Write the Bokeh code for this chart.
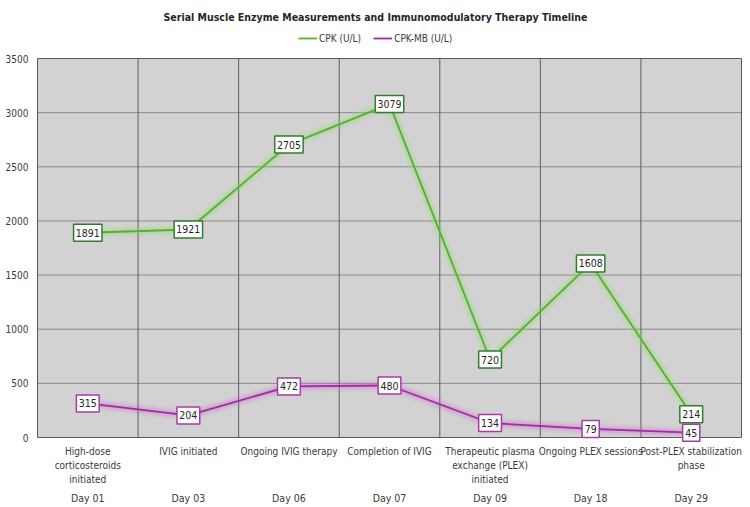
from bokeh.plotting import figure
from bokeh.models import ColumnDataSource, Range1d, Legend, LegendItem
from bokeh.core.properties import value
from bokeh.embed import file_html
from bokeh.resources import INLINE

# Timeline data
days = ["Day 01", "Day 03", "Day 06", "Day 07", "Day 09", "Day 18", "Day 29"]
phases = [
    "High-dose\ncorticosteroids\ninitiated",
    "IVIG initiated",
    "Ongoing IVIG therapy",
    "Completion of IVIG",
    "Therapeutic plasma\nexchange (PLEX)\ninitiated",
    "Ongoing PLEX sessions",
    "Post-PLEX stabilization\nphase",
]
cpk = [1891, 1921, 2705, 3079, 720, 1608, 214]
cpk_mb = [315, 204, 472, 480, 134, 79, 45]
y_ticks = [0, 500, 1000, 1500, 2000, 2500, 3000, 3500]
title = "Serial Muscle Enzyme Measurements and Immunomodulatory Therapy Timeline"

FONT_NAME = "DejaVu Sans Condensed, Lato"
FONT = value(FONT_NAME)
TXT = "#3a3a3a"
GREEN = "#52b230"
GREEN_DARK = "#2f7d2c"
MAGENTA = "#a626a6"
MAGENTA_BOX = "#a63aa6"

# canvas geometry (pixels): the plotting area and the margins around it
W, H = 750, 507
LEFT, RIGHT, TOP, BOTTOM = 37, 741, 58, 437
n = len(days)
y_max = y_ticks[-1]
sx = (RIGHT - LEFT) / n          # px per category
sy = (BOTTOM - TOP) / y_max      # px per U/L
x0 = -LEFT / sx
x1 = n + (W - RIGHT) / sx
y0 = -(H - BOTTOM) / sy
y1 = y_max + TOP / sy


def px_x(px):
    return x0 + px / sx


def px_y(py):
    return y1 - py / sy


xs = [i + 0.5 for i in range(n)]


def box_w(vals):
    return [6 + 5.6 * len(str(v)) for v in vals]


src = ColumnDataSource(dict(
    x=xs, cpk=cpk, cpk_mb=cpk_mb,
    cpk_txt=[str(v) for v in cpk], mb_txt=[str(v) for v in cpk_mb],
    cpk_w=box_w(cpk), mb_w=box_w(cpk_mb),
    phase=phases, day=days,
))

p = figure(width=W, height=H, output_backend="svg", toolbar_location=None,
           x_range=Range1d(x0, x1), y_range=Range1d(y0, y1),
           x_axis_location=None, y_axis_location=None,
           min_border=0, outline_line_color=None)
p.grid.visible = False
p.background_fill_color = "white"
p.border_fill_color = "white"

# plotting area and its grid
p.quad(left=[0], right=[n], bottom=[0], top=[y_max],
       fill_color="#d2d2d2", line_color=None)
inner = y_ticks[1:-1]
p.segment(x0=[0] * len(inner), x1=[n] * len(inner), y0=inner, y1=inner,
          line_color="#8a8a8a", line_width=1)
seps = list(range(1, n))
p.segment(x0=seps, x1=seps, y0=[0] * len(seps), y1=[y_max] * len(seps),
          line_color="#5e5e5e", line_width=1)
p.quad(left=[0], right=[n], bottom=[0], top=[y_max],
       fill_color=None, line_color="#5a5a5a", line_width=1)

# y tick labels
p.text(x=[px_x(LEFT - 9)] * len(y_ticks), y=y_ticks,
       text=[str(t) for t in y_ticks], text_align="right",
       text_baseline="middle", text_font=FONT, text_font_size="10px",
       text_color=TXT)

# phase labels and day labels under each timepoint
p.text(x="x", y=px_y(BOTTOM + 8), text="phase", source=src,
       text_align="center", text_baseline="top", text_font=FONT,
       text_font_size="10px", text_color=TXT, text_line_height=1.3)
p.text(x="x", y=px_y(BOTTOM + 60), text="day", source=src,
       text_align="center", text_baseline="middle", text_font=FONT,
       text_font_size="10.5px", text_color=TXT)

# title, centred on the whole canvas
p.text(x=[px_x(W / 2)], y=[px_y(16)], text=[title], text_align="center",
       text_baseline="middle", text_font=FONT, text_font_size="10.5px",
       text_font_style="bold", text_color="#262626")

# soft glow under each line
for w, a in [(12, 0.08), (8, 0.12), (5, 0.18)]:
    p.line("x", "cpk", source=src, line_color="#8fe060", line_width=w, line_alpha=a)
    p.line("x", "cpk_mb", source=src, line_color="#d266d2", line_width=w, line_alpha=a)

r_cpk = p.line("x", "cpk", source=src, line_color=GREEN, line_width=1.8)
r_mb = p.line("x", "cpk_mb", source=src, line_color=MAGENTA, line_width=1.8)

# boxed value labels centred on each point
for col, txt, wcol, border in [("cpk", "cpk_txt", "cpk_w", GREEN_DARK),
                               ("cpk_mb", "mb_txt", "mb_w", MAGENTA_BOX)]:
    p.rect(x="x", y=col, width=wcol, height=17, width_units="screen",
           height_units="screen", source=src, fill_color="white",
           line_color=border, line_width=1.5)
    p.text(x="x", y=col, text=txt, source=src, text_align="center",
           text_baseline="middle", text_font=FONT,
           text_font_size="10.5px", text_color="#262626")

legend = Legend(items=[LegendItem(label="CPK (U/L)", renderers=[r_cpk]),
                       LegendItem(label="CPK-MB (U/L)", renderers=[r_mb])],
                orientation="horizontal", location=(298, H - 37 - 7),
                background_fill_alpha=0, border_line_color=None,
                label_text_font=FONT_NAME,
                label_text_font_size="10px", label_text_color=TXT,
                glyph_width=19, glyph_height=10, label_height=12,
                spacing=12, padding=0, margin=0, label_standoff=2)
p.add_layout(legend, "center")

open("out.html", "w").write(file_html(p, INLINE))
